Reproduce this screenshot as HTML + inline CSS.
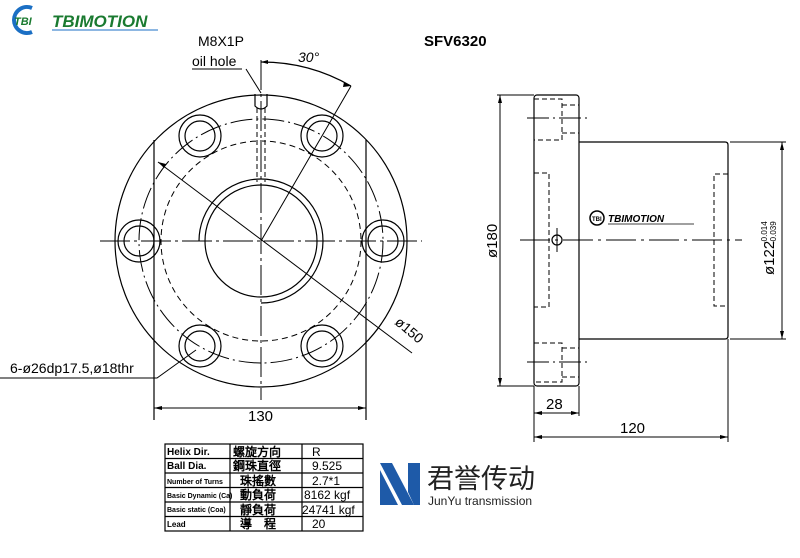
<!DOCTYPE html>
<html><head><meta charset="utf-8"><style>
html,body{margin:0;padding:0;background:#fff;}
svg{display:block;}
text{font-family:"Liberation Sans",sans-serif;}
</style></head><body>
<svg width="800" height="558" viewBox="0 0 800 558" xmlns="http://www.w3.org/2000/svg">
<!-- header logo -->
<path d="M32 8 A13 13 0 1 0 32 32" fill="none" stroke="#1b6fc4" stroke-width="4"/>
<text x="14" y="25" font-family="Liberation Serif" font-weight="bold" font-style="italic" font-size="11" fill="#1a7a30">TBI</text>
<text x="52" y="27" font-family="Liberation Serif" font-weight="bold" font-style="italic" font-size="17" fill="#1a7a30">TBIMOTION</text>
<line x1="52" y1="30" x2="158" y2="30" stroke="#1b6fc4" stroke-width="1"/>

<text x="198" y="46" font-size="14">M8X1P</text>
<text x="192" y="66" font-size="14">oil hole</text>
<line x1="192" y1="69" x2="242" y2="69" stroke="#000"/>
<line x1="246" y1="69" x2="261" y2="93" stroke="#000"/>
<text x="424" y="46" font-size="15" font-weight="bold" font-family="Liberation Serif">SFV6320</text>

<g fill="none" stroke="#000" stroke-width="1.2">
<circle cx="261" cy="241" r="146"/>
<line x1="154" y1="140" x2="154" y2="420"/>
<line x1="366" y1="140" x2="366" y2="420"/>
<circle cx="261" cy="241" r="122" stroke-dasharray="22 4 2 4" stroke-width="1"/>
<circle cx="261" cy="241" r="100" stroke-dasharray="6 4" stroke-width="1"/>
<circle cx="261" cy="241" r="56"/>
<path d="M199 241 A62 62 0 1 1 261 303"/>
<g>
<circle cx="139" cy="241" r="21"/><circle cx="139" cy="241" r="15"/>
<circle cx="383" cy="241" r="21"/><circle cx="383" cy="241" r="15"/>
<circle cx="200" cy="136" r="21"/><circle cx="200" cy="136" r="15"/>
<circle cx="322" cy="136" r="21"/><circle cx="322" cy="136" r="15"/>
<circle cx="200" cy="346" r="21"/><circle cx="200" cy="346" r="15"/>
<circle cx="322" cy="346" r="21"/><circle cx="322" cy="346" r="15"/>
</g>
<line x1="100" y1="241" x2="422" y2="241" stroke-dasharray="30 4 3 4" stroke-width="1"/>
<line x1="261" y1="60" x2="261" y2="400" stroke-dasharray="30 4 3 4" stroke-width="1"/>
<path d="M255 94 V106 Q261 112 267 106 V94" />
<line x1="257" y1="108" x2="257" y2="182" stroke-dasharray="5 3" stroke-width="1"/>
<line x1="265" y1="108" x2="265" y2="182" stroke-dasharray="5 3" stroke-width="1"/>
<path d="M261 62 A179 179 0 0 1 351 86"/>
<line x1="261" y1="241" x2="351" y2="86" stroke-width="1"/>
<line x1="158" y1="162" x2="412" y2="353" stroke-width="1"/>
<polyline points="196,350 157,378 0,378" stroke-width="1"/>
<line x1="154" y1="408" x2="366" y2="408" stroke-width="1"/>

<rect x="534" y="95" width="45" height="291" rx="3"/>
<path d="M579 142 H725 Q728 142 728 145 V336 Q728 339 725 339 H579"/>
<g stroke-dasharray="5 3" stroke-width="1">
<polyline points="534,99 562,99 562,140 534,140"/>
<path d="M562,105 H579 M562,133 H579"/>
<polyline points="534,343 562,343 562,382 534,382"/>
<path d="M562,348 H579 M562,377 H579"/>
<polyline points="534,173 549,173 549,307 534,307"/>
<polyline points="728,174 714,174 714,306 728,306"/>
</g>
<line x1="527" y1="118" x2="587" y2="118" stroke-dasharray="22 4 2 4" stroke-width="1"/>
<line x1="527" y1="362" x2="587" y2="362" stroke-dasharray="22 4 2 4" stroke-width="1"/>
<line x1="520" y1="240" x2="742" y2="240" stroke-dasharray="30 5 3 5" stroke-width="1"/>
<circle cx="557" cy="240" r="5"/>
<line x1="557" y1="228" x2="557" y2="252" stroke-width="1"/>
<line x1="500" y1="95" x2="500" y2="386" stroke-width="1"/>
<line x1="497" y1="95" x2="534" y2="95" stroke-width="1"/>
<line x1="497" y1="386" x2="534" y2="386" stroke-width="1"/>
<line x1="782" y1="142" x2="782" y2="339" stroke-width="1"/>
<line x1="730" y1="142" x2="786" y2="142" stroke-width="1"/>
<line x1="730" y1="339" x2="786" y2="339" stroke-width="1"/>
<line x1="534" y1="386" x2="534" y2="442" stroke-width="1"/>
<line x1="579" y1="386" x2="579" y2="416" stroke-width="1"/>
<line x1="728" y1="339" x2="728" y2="442" stroke-width="1"/>
<line x1="534" y1="413" x2="579" y2="413" stroke-width="1"/>
<line x1="534" y1="437" x2="728" y2="437" stroke-width="1"/>
</g>
<g fill="#000">
<polygon points="158,162 166,164 164,168"/>
<polygon points="261,62 268,60 268,64"/>
<polygon points="351,86 344,82 343,87"/>
<polygon points="154,408 162,406 162,410"/><polygon points="366,408 358,406 358,410"/>
<polygon points="500,95 498,103 502,103"/><polygon points="500,386 498,378 502,378"/>
<polygon points="782,142 780,150 784,150"/><polygon points="782,339 780,331 784,331"/>
<polygon points="534,413 542,411 542,415"/><polygon points="579,413 571,411 571,415"/>
<polygon points="534,437 542,435 542,439"/><polygon points="728,437 720,435 720,439"/>
</g>
<text x="298" y="62" font-size="14" font-style="italic">30°</text>
<text x="388" y="330" font-size="14" transform="rotate(40 400 335)">ø150</text>
<text x="10" y="373" font-size="14">6-ø26dp17.5,ø18thr</text>
<text x="248" y="421" font-size="15">130</text>
<text x="546" y="409" font-size="15">28</text>
<text x="620" y="433" font-size="15">120</text>
<text transform="translate(497 258) rotate(-90)" font-size="15">ø180</text>
<text transform="translate(774 275) rotate(-90)" font-size="15">ø122</text>
<text transform="translate(767 244) rotate(-90)" font-size="8">-0.014</text>
<text transform="translate(776 244) rotate(-90)" font-size="8">-0.039</text>
<circle cx="597" cy="218" r="7" fill="none" stroke="#000" stroke-width="1.5"/>
<text x="592" y="221" font-size="6" font-weight="bold">TBI</text>
<text x="608" y="222" font-family="Liberation Serif" font-weight="bold" font-style="italic" font-size="10">TBIMOTION</text>
<line x1="608" y1="224" x2="694" y2="224" stroke="#000" stroke-width="0.8"/>

<g stroke="#000" stroke-width="1.2" fill="none">
<rect x="165" y="444" width="198" height="87"/>
<line x1="230" y1="444" x2="230" y2="531"/><line x1="302" y1="444" x2="302" y2="531"/>
<line x1="165" y1="458.5" x2="363" y2="458.5"/><line x1="165" y1="473" x2="363" y2="473"/>
<line x1="165" y1="487.5" x2="363" y2="487.5"/><line x1="165" y1="502" x2="363" y2="502"/>
<line x1="165" y1="516.5" x2="363" y2="516.5"/>
</g>
<g font-family="Liberation Serif" font-weight="bold">
<text x="167" y="455" font-size="10">Helix Dir.</text>
<text x="167" y="469" font-size="10">Ball Dia.</text>
<text x="167" y="484" font-size="7">Number of Turns</text>
<text x="167" y="498" font-size="7">Basic Dynamic (Ca)</text>
<text x="167" y="512" font-size="7">Basic static (Coa)</text>
<text x="167" y="527" font-size="8">Lead</text>
</g>
<g font-family="'Noto Serif CJK SC','Noto Sans CJK TC',serif" font-weight="bold" font-size="12">
<text x="233" y="456">螺旋方向</text>
<text x="233" y="470">鋼珠直徑</text>
<text x="240" y="485">珠搖數</text>
<text x="240" y="499">動負荷</text>
<text x="240" y="514">靜負荷</text>
<text x="240" y="528">導　程</text>
</g>
<g font-family="Liberation Serif" font-size="12">
<text x="312" y="456">R</text>
<text x="312" y="470">9.525</text>
<text x="312" y="485">2.7*1</text>
<text x="304" y="499">8162 kgf</text>
<text x="302" y="514">24741 kgf</text>
<text x="312" y="528">20</text>
</g>
<polygon points="380,463 392,463 414,505 402,505" fill="#1e5aa8"/>
<polygon points="380,470 398,505 380,505" fill="#1e5aa8"/>
<polygon points="408,463 420,463 420,505 414,505 408,492" fill="#1e5aa8"/>
<text x="427" y="488" font-family="'Noto Sans CJK SC',sans-serif" font-size="27" fill="#222">君誉传动</text>
<text x="428" y="505" font-size="12" fill="#222">JunYu transmission</text>
</svg>
</body></html>
